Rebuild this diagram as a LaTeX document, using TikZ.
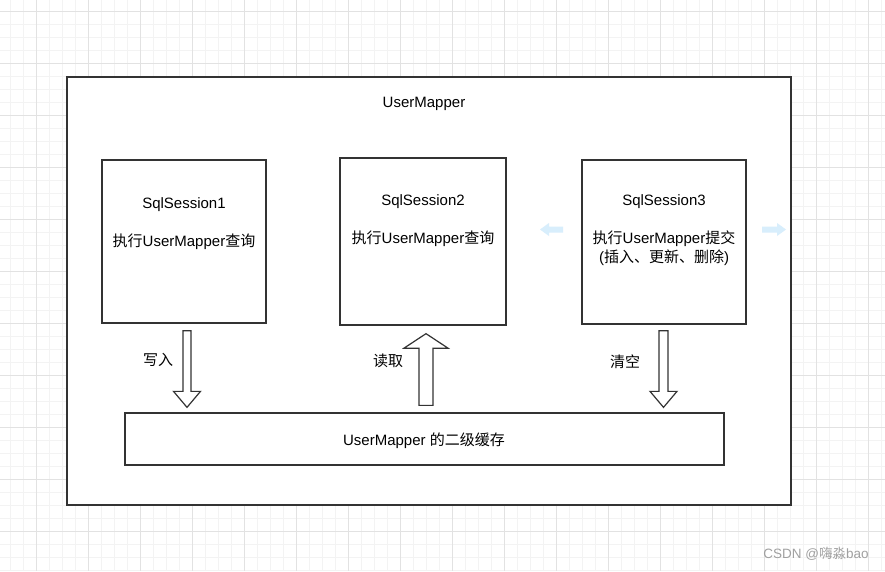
\documentclass[tikz,border=0pt]{standalone}
\usepackage{fontspec}
\setmainfont{Liberation Sans}
\newfontfamily\cjk{Noto Sans CJK SC}
\usetikzlibrary{calc}

\definecolor{gridmajor}{RGB}{226,226,226}
\definecolor{gridminor}{RGB}{243,243,243}
\definecolor{edge}{RGB}{51,51,51}
\definecolor{hint}{RGB}{216,238,252}
\definecolor{mark}{RGB}{160,160,160}

\tikzset{
  box/.style={draw=edge, line width=1.3pt, fill=white, inner sep=0pt},
  txt/.style={font=\fontsize{15}{19}\selectfont, align=center, inner sep=0pt},
  fat/.style={draw=edge, line width=1.2pt, fill=white, line join=miter},
}

% hollow block arrow: tail, tip, shaft half, head half, head length
\newcommand{\hollowarrow}[5]{%
  \path (#1) coordinate (ta) (#2) coordinate (ti);
  \path ($(ti)!#5!(ta)$) coordinate (ne);
  \draw[fat] ($(ta)!#3!90:(ti)$) -- ($(ne)!#3!90:(ti)$) -- ($(ne)!#4!90:(ti)$) -- (ti)
    -- ($(ne)!#4!-90:(ti)$) -- ($(ne)!#3!-90:(ti)$) -- ($(ta)!#3!-90:(ti)$) -- cycle;
}

\begin{document}
\begin{tikzpicture}[x=1pt, y=-1pt]
		\useasboundingbox (0,0) rectangle (885,571);
		\fill[white] (0,0) rectangle (885,571);

		% background grid
		\foreach \x in {10,23,...,884} \draw[gridminor, line width=0.8pt] (\x,0) -- (\x,571);
		\foreach \y in {11.7,24.7,...,571} \draw[gridminor, line width=0.8pt] (0,\y) -- (885,\y);
		\foreach \x in {36,88,...,884} \draw[gridmajor, line width=0.8pt] (\x,0) -- (\x,571);
		\foreach \y in {11.7,63.7,...,571} \draw[gridmajor, line width=0.8pt] (0,\y) -- (885,\y);

		\node[box, minimum width=724pt, minimum height=428pt] (mapper) at (429,291) {};
		\node[txt] (title) at (424,104) {UserMapper};

		\node[box, minimum width=164pt, minimum height=163pt] (s1) at (184,241.5) {};
		\node[box, minimum width=166pt, minimum height=167pt] (s2) at (423,241.5) {};
		\node[box, minimum width=164pt, minimum height=164pt] (s3) at (664,242) {};

		\node[txt] (t1) at (184,224) {SqlSession1\\[19pt]{\cjk 执行}UserMapper{\cjk 查询}};
		\node[txt] (t2) at (423,221) {SqlSession2\\[19pt]{\cjk 执行}UserMapper{\cjk 查询}};
		\node[txt] (t3) at (664,230.5) {SqlSession3\\[19pt]{\cjk 执行}UserMapper{\cjk 提交}\\({\cjk 插入、更新、删除})};

		\node[box, minimum width=599pt, minimum height=52pt] (cache) at (424.5,439) {};
		\node[txt] (ct) at (424,440.5) {UserMapper {\cjk 的二级缓存}};

		% hover hints
		\fill[hint] (540,229.5) -- (549,223) -- (549,226.5) -- (563,226.5) -- (563,232.5) -- (549,232.5) -- (549,236) -- cycle;
		\fill[hint] (786,229.5) -- (777,223) -- (777,226.5) -- (762,226.5) -- (762,232.5) -- (777,232.5) -- (777,236) -- cycle;

		% write
		\path (s1.south) ++(3,7) coordinate (w0);
		\path (w0 |- cache.north) ++(0,-5) coordinate (w1);
		\hollowarrow{w0}{w1}{4pt}{13.5pt}{16pt}
		\node[txt] (wl) at (158,360) {\cjk 写入};

		% read
		\path (cache.north -| s2.south) ++(3,-7) coordinate (r0);
		\path (s2.south) ++(3,8) coordinate (r1);
		\hollowarrow{r0}{r1}{7pt}{22pt}{14.5pt}
		\node[txt] (rl) at (388,361) {\cjk 读取};

		% clear
		\path (s3.south) ++(-0.5,6) coordinate (c0);
		\path (c0 |- cache.north) ++(0,-5) coordinate (c1);
		\hollowarrow{c0}{c1}{4.5pt}{13.5pt}{16pt}
		\node[txt] (cl) at (625,362) {\cjk 清空};

		\node[txt, font=\fontsize{13.5}{16}\selectfont, text=mark] (wm) at (816,554) {CSDN @{\cjk 嗨淼}bao};
\end{tikzpicture}
\end{document}
